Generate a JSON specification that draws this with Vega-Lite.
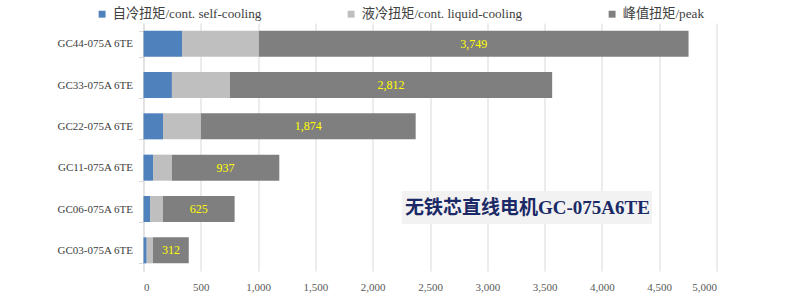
{
  "$schema": "https://vega.github.io/schema/vega-lite/v6.json",
  "width": 573,
  "height": 248,
  "autosize": "none",
  "padding": {"left": 143.5, "top": 23, "right": 77.5, "bottom": 25},
  "background": "white",
  "config": {"view": {"stroke": null}, "font": "Liberation Serif"},
  "data": {
    "values": [
      {"model": "GC44-075A 6TE", "type": "自冷扭矩/cont. self-cooling", "k": 1, "value": 336},
      {"model": "GC44-075A 6TE", "type": "液冷扭矩/cont. liquid-cooling", "k": 2, "value": 671},
      {"model": "GC44-075A 6TE", "type": "峰值扭矩/peak", "k": 3, "value": 3749},
      {"model": "GC33-075A 6TE", "type": "自冷扭矩/cont. self-cooling", "k": 1, "value": 248},
      {"model": "GC33-075A 6TE", "type": "液冷扭矩/cont. liquid-cooling", "k": 2, "value": 506},
      {"model": "GC33-075A 6TE", "type": "峰值扭矩/peak", "k": 3, "value": 2812},
      {"model": "GC22-075A 6TE", "type": "自冷扭矩/cont. self-cooling", "k": 1, "value": 170},
      {"model": "GC22-075A 6TE", "type": "液冷扭矩/cont. liquid-cooling", "k": 2, "value": 331},
      {"model": "GC22-075A 6TE", "type": "峰值扭矩/peak", "k": 3, "value": 1874},
      {"model": "GC11-075A 6TE", "type": "自冷扭矩/cont. self-cooling", "k": 1, "value": 83},
      {"model": "GC11-075A 6TE", "type": "液冷扭矩/cont. liquid-cooling", "k": 2, "value": 165},
      {"model": "GC11-075A 6TE", "type": "峰值扭矩/peak", "k": 3, "value": 937},
      {"model": "GC06-075A 6TE", "type": "自冷扭矩/cont. self-cooling", "k": 1, "value": 57},
      {"model": "GC06-075A 6TE", "type": "液冷扭矩/cont. liquid-cooling", "k": 2, "value": 113},
      {"model": "GC06-075A 6TE", "type": "峰值扭矩/peak", "k": 3, "value": 625},
      {"model": "GC03-075A 6TE", "type": "自冷扭矩/cont. self-cooling", "k": 1, "value": 28},
      {"model": "GC03-075A 6TE", "type": "液冷扭矩/cont. liquid-cooling", "k": 2, "value": 55},
      {"model": "GC03-075A 6TE", "type": "峰值扭矩/peak", "k": 3, "value": 312}
    ]
  },
  "encoding": {
    "y": {
      "field": "model",
      "type": "nominal",
      "sort": null,
      "scale": {
        "domain": ["GC44-075A 6TE", "GC33-075A 6TE", "GC22-075A 6TE", "GC11-075A 6TE", "GC06-075A 6TE", "GC03-075A 6TE"],
        "paddingInner": 0.37,
        "paddingOuter": 0.185
      },
      "axis": {
        "title": null,
        "labelFont": "Liberation Serif",
        "labelFontSize": 11,
        "labelColor": "#404040",
        "tickBand": "extent",
        "tickColor": "#D9D9D9",
        "tickSize": 5,
        "domainColor": "#D9D9D9",
        "labelPadding": 6,
        "grid": false
      }
    }
  },
  "layer": [
    {
      "mark": {"type": "bar"},
      "encoding": {
        "x": {
          "field": "value",
          "type": "quantitative",
          "stack": "zero",
          "scale": {"domain": [0, 5000], "nice": false},
          "axis": {
            "title": null,
            "format": ",d",
            "values": [0, 500, 1000, 1500, 2000, 2500, 3000, 3500, 4000, 4500, 5000],
            "labelFont": "Liberation Serif",
            "labelFontSize": 11,
            "labelColor": "#595959",
            "domain": false,
            "ticks": false,
            "gridColor": "#D9D9D9",
            "labelPadding": 10
          }
        },
        "color": {
          "field": "type",
          "type": "nominal",
          "scale": {
            "domain": ["自冷扭矩/cont. self-cooling", "液冷扭矩/cont. liquid-cooling", "峰值扭矩/peak"],
            "range": ["#4F81BD", "#BFBFBF", "#7F7F7F"]
          },
          "legend": {
            "title": null,
            "orient": "none",
            "legendX": -48,
            "legendY": -15.5,
            "direction": "horizontal",
            "symbolType": "square",
            "symbolSize": 48,
            "symbolStrokeWidth": 0,
            "labelFont": "Liberation Serif, Noto Sans CJK SC",
            "labelFontSize": 13.2,
            "labelColor": "#404040",
            "columnPadding": 83,
            "labelLimit": 300,
            "padding": 0
          }
        },
        "order": {"field": "k"}
      }
    },
    {
      "mark": {"type": "text", "color": "#FFFF00", "fontSize": 12, "font": "Liberation Serif"},
      "encoding": {
        "x": {"field": "value", "type": "quantitative", "stack": "zero", "bandPosition": 0.5},
        "detail": {"field": "type"},
        "order": {"field": "k"},
        "text": {"condition": {"test": "datum.k === 3", "field": "value", "format": ","}, "value": ""}
      }
    },
    {
      "data": {"values": [{}]},
      "mark": {"type": "bar", "color": "#F2F2F2", "size": 33, "yOffset": -1.5},
      "encoding": {
        "x": {"datum": 2253},
        "x2": {"datum": 4437},
        "y": {"datum": "GC06-075A 6TE"}
      }
    },
    {
      "data": {"values": [{}]},
      "mark": {"type": "text", "text": "无铁芯直线电机GC-075A6TE", "fontSize": 19, "fontWeight": "bold", "color": "#1B2A66", "font": "Liberation Serif, Noto Sans CJK SC", "dy": -1.5},
      "encoding": {
        "x": {"datum": 3350},
        "y": {"datum": "GC06-075A 6TE"}
      }
    }
  ]
}
